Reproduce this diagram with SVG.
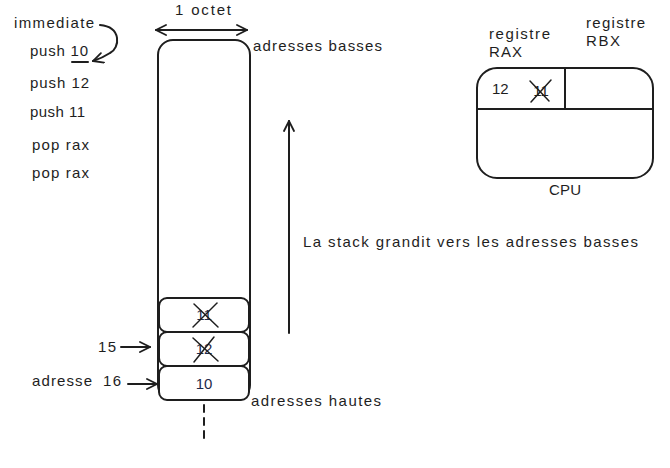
<svg xmlns="http://www.w3.org/2000/svg" width="670" height="468" viewBox="0 0 670 468">
<defs>
<marker id="ah" viewBox="0 0 12 12" refX="11" refY="6" markerWidth="12" markerHeight="12" markerUnits="userSpaceOnUse" orient="auto-start-reverse">
<path d="M1,1 L11,6 L1,11" fill="none" stroke="#1e1e1e" stroke-width="1.8" stroke-linecap="round"/>
</marker>
</defs>
<style>
text{font-family:"Liberation Sans","DejaVu Sans",sans-serif;font-size:15px;fill:#1e1e1e}
.box{fill:#fff;stroke:#1e1e1e;stroke-width:2}
.ln{fill:none;stroke:#1e1e1e;stroke-width:2;stroke-linecap:round}
.num{fill:#1e2a4a;text-anchor:middle}
.x{stroke:#1e1e1e;stroke-width:1.5;stroke-linecap:round}
</style>
<rect width="670" height="468" fill="#fff"/>

<g id="instructions">
<text x="14" y="28" textLength="80">immediate</text>
<text x="30" y="56" textLength="58">push 10</text>
<line x1="72" y1="62" x2="88" y2="62" class="ln" stroke-width="1.5"/>
<text x="30" y="88" textLength="59">push 12</text>
<text x="30" y="117" textLength="55">push 11</text>
<text x="32" y="150" textLength="57">pop rax</text>
<text x="32" y="178" textLength="57">pop rax</text>
</g>

<g id="stack">
<rect x="158" y="40" width="92" height="360" rx="15" class="box"/>
<text x="175" y="15" textLength="56">1 octet</text>
<text x="253" y="51" textLength="129">adresses basses</text>
<text x="251" y="406" textLength="130">adresses hautes</text>
</g>

<g id="cell-11">
<rect x="159" y="298" width="90" height="34" rx="8" class="box"/>
<text x="204" y="320" class="num">11</text>
<line x1="194" y1="304" x2="218" y2="327" class="x"/>
<line x1="217" y1="303" x2="193" y2="327" class="x"/>
</g>
<g id="cell-12">
<rect x="159" y="332" width="90" height="34" rx="8" class="box"/>
<text x="204" y="354" class="num">12</text>
<line x1="193" y1="338" x2="218" y2="361" class="x"/>
<line x1="214" y1="337" x2="194" y2="362" class="x"/>
</g>
<g id="cell-10">
<rect x="159" y="366" width="90" height="34" rx="8" class="box"/>
<text x="204" y="389" class="num">10</text>
</g>

<g id="cpu">
<rect x="477" y="68" width="176" height="110" rx="20" class="box"/>
<line x1="478" y1="109" x2="652" y2="109" class="ln"/>
<line x1="565" y1="69" x2="565" y2="109" class="ln"/>
<text x="492" y="94">12</text>
<text x="541" y="96" text-anchor="middle">11</text>
<line x1="530" y1="81" x2="549" y2="101" class="x"/>
<line x1="551" y1="80" x2="531" y2="102" class="x"/>
<text x="489" y="39" textLength="61">registre</text>
<text x="489" y="57" textLength="33">RAX</text>
<text x="586" y="28" textLength="59">registre</text>
<text x="586" y="46" textLength="34">RBX</text>
<text x="549" y="195" textLength="32">CPU</text>
</g>

<g id="growth-label">
<text x="303" y="247" textLength="335">La stack grandit vers les adresses basses</text>
</g>

<g id="address-labels">
<text x="98" y="352" textLength="18">15</text>
<text x="32" y="386" textLength="60">adresse</text>
<text x="103" y="386" textLength="18">16</text>
</g>

<g id="connectors">
<line x1="156" y1="30" x2="247" y2="30" class="ln" marker-start="url(#ah)" marker-end="url(#ah)"/>
<path d="M100,25 C122,27 120,48 110,53 C104,57 99,59 93,61" class="ln" marker-end="url(#ah)"/>
<line x1="289" y1="333" x2="289" y2="121" class="ln" marker-end="url(#ah)"/>
<line x1="204" y1="405" x2="204" y2="443" class="ln" stroke-dasharray="7,6"/>
<line x1="121" y1="347" x2="150" y2="347" class="ln" marker-end="url(#ah)"/>
<line x1="128" y1="384" x2="157" y2="384" class="ln" marker-end="url(#ah)"/>
</g>
</svg>
